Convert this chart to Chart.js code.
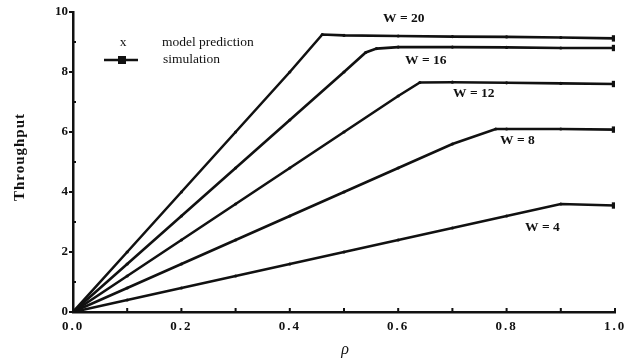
<!DOCTYPE html>
<html>
<head>
<meta charset="utf-8">
<script src="https://cdn.jsdelivr.net/npm/chart.js@4.4.1/dist/chart.umd.min.js"></script>
<style>
    html, body { margin: 0; padding: 0; background: #fff; }
    #wrap { width: 633px; height: 360px; position: relative; }
</style>
</head>
<body>
<div id="wrap"><canvas id="chart"></canvas></div>
<script>
// Values: throughput vs rho for each window size W
const rhoW20 = [0, 0.1, 0.2, 0.3, 0.4, 0.46, 0.5, 0.6, 0.7, 0.8, 0.9, 1.0];
const thrW20 = [0, 2.0, 4.0, 6.0, 8.0, 9.25, 9.22, 9.2, 9.18, 9.17, 9.15, 9.12];

const rhoW16 = [0, 0.1, 0.2, 0.3, 0.4, 0.5, 0.54, 0.56, 0.6, 0.7, 0.8, 0.9, 1.0];
const thrW16 = [0, 1.6, 3.2, 4.8, 6.4, 8.0, 8.65, 8.78, 8.83, 8.83, 8.82, 8.8, 8.8];

const rhoW12 = [0, 0.1, 0.2, 0.3, 0.4, 0.5, 0.6, 0.64, 0.7, 0.8, 0.9, 1.0];
const thrW12 = [0, 1.2, 2.4, 3.6, 4.8, 6.0, 7.2, 7.65, 7.66, 7.64, 7.62, 7.6];

const rhoW8 = [0, 0.1, 0.2, 0.3, 0.4, 0.5, 0.6, 0.7, 0.78, 0.8, 0.9, 1.0];
const thrW8 = [0, 0.8, 1.6, 2.4, 3.2, 4.0, 4.8, 5.6, 6.1, 6.1, 6.1, 6.08];

const rhoW4 = [0, 0.1, 0.2, 0.3, 0.4, 0.5, 0.6, 0.7, 0.8, 0.9, 1.0];
const thrW4 = [0, 0.4, 0.8, 1.2, 1.6, 2.0, 2.4, 2.8, 3.2, 3.6, 3.55];

const xTicks = [0, 0.2, 0.4, 0.6, 0.8, 1.0];
const yTicks = [0, 2, 4, 6, 8, 10];

const seriesLabels = ['W = 20', 'W = 16', 'W = 12', 'W = 8', 'W = 4'];

const INK = '#111';
const SERIF = '"Liberation Serif", "DejaVu Serif", serif';

function toPoints(xs, ys) {
    return xs.map((x, i) => ({ x: x, y: ys[i] }));
}

function makeSet(label, xs, ys) {
    const last = xs.length - 1;
    return {
        label: label,
        data: toPoints(xs, ys),
        borderColor: INK,
        backgroundColor: INK,
        borderWidth: 2.6,
        tension: 0,
        pointStyle: ctx => ctx.dataIndex === last ? 'rect' : 'circle',
        pointRadius: ctx => ctx.dataIndex === last ? 4.5 : 1.6,
        pointBorderWidth: 0
    };
}

// Legend block, curve labels, axis titles and small ticks
const annotations = {
    id: 'annotations',
    afterLayout(chart) {
        // spaced-out x tick labels like the printed figure
        const xs = chart.scales.x;
        if (xs._spaced) return;
        const orig = xs.drawLabels.bind(xs);
        xs.drawLabels = area => {
            chart.ctx.letterSpacing = '2px';
            orig(area);
            chart.ctx.letterSpacing = '0px';
        };
        xs._spaced = true;
    },
    afterDraw(chart) {
        const ctx = chart.ctx;
        ctx.save();
        ctx.fillStyle = INK;
        ctx.strokeStyle = INK;
        ctx.textBaseline = 'middle';

        // legend
        ctx.font = '13.5px ' + SERIF;
        ctx.textAlign = 'center';
        ctx.fillText('x', 123, 42);
        ctx.textAlign = 'left';
        ctx.fillText('model prediction', 162, 42);
        ctx.fillText('simulation', 163, 59);
        ctx.lineWidth = 2.6;
        ctx.beginPath();
        ctx.moveTo(104, 60);
        ctx.lineTo(138, 60);
        ctx.stroke();
        ctx.fillRect(118, 56, 8, 8);

        // curve labels
        ctx.font = 'bold 13.5px ' + SERIF;
        const spots = [[383, 19], [405, 61], [453, 94], [500, 141], [525, 228]];
        seriesLabels.forEach((t, i) => {
            ctx.fillText(t, spots[i][0], spots[i][1]);
        });

        // axis titles
        ctx.save();
        ctx.translate(20, 157);
        ctx.rotate(-Math.PI / 2);
        ctx.textAlign = 'center';
        ctx.letterSpacing = '1px';
        ctx.font = 'bold 15px ' + SERIF;
        ctx.fillText('Throughput', 0, 0);
        ctx.restore();

        ctx.textAlign = 'center';
        ctx.font = 'italic 16px ' + SERIF;
        ctx.fillText('ρ', 345, 350);

        // inward ticks on the x axis every 0.1, minor ticks on y
        const xs = chart.scales.x;
        const ys = chart.scales.y;
        ctx.lineWidth = 2;
        ctx.beginPath();
        for (let k = 1; k <= 10; k++) {
            const px = xs.getPixelForValue(k / 10);
            ctx.moveTo(px, ys.bottom);
            ctx.lineTo(px, ys.bottom - 4);
        }
        for (let v = 1; v < 10; v += 2) {
            const py = ys.getPixelForValue(v);
            ctx.moveTo(xs.left, py);
            ctx.lineTo(xs.left + 3, py);
        }
        ctx.stroke();
        ctx.restore();
    }
};

new Chart(document.getElementById('chart'), {
    type: 'line',
    data: {
        datasets: [
            makeSet('W = 20', rhoW20, thrW20),
            makeSet('W = 16', rhoW16, thrW16),
            makeSet('W = 12', rhoW12, thrW12),
            makeSet('W = 8', rhoW8, thrW8),
            makeSet('W = 4', rhoW4, thrW4)
        ]
    },
    options: {
        responsive: true,
        maintainAspectRatio: false,
        animation: false,
        layout: { padding: { left: 0, top: 12, right: 18, bottom: 0 } },
        plugins: {
            legend: { display: false },
            tooltip: { enabled: false }
        },
        scales: {
            x: {
                type: 'linear',
                min: 0,
                max: 1,
                afterFit: s => { s.height = 48; },
                afterBuildTicks: s => { s.ticks = xTicks.map(v => ({ value: v })); },
                grid: { drawOnChartArea: false, tickLength: 4, tickColor: 'rgba(0,0,0,0)' },
                border: { color: INK, width: 2.5 },
                ticks: {
                    color: INK,
                    padding: 3,
                    font: { family: SERIF, size: 13, weight: 'bold' },
                    callback: v => v.toFixed(1)
                }
            },
            y: {
                min: 0,
                max: 10,
                afterFit: s => { s.width = 73; },
                afterBuildTicks: s => { s.ticks = yTicks.map(v => ({ value: v })); },
                grid: { drawOnChartArea: false, tickLength: 4, color: INK, lineWidth: 2 },
                border: { color: INK, width: 2.5 },
                ticks: {
                    color: INK,
                    padding: 1,
                    font: { family: SERIF, size: 13, weight: 'bold' }
                }
            }
        }
    },
    plugins: [annotations]
});
</script>
</body>
</html>
